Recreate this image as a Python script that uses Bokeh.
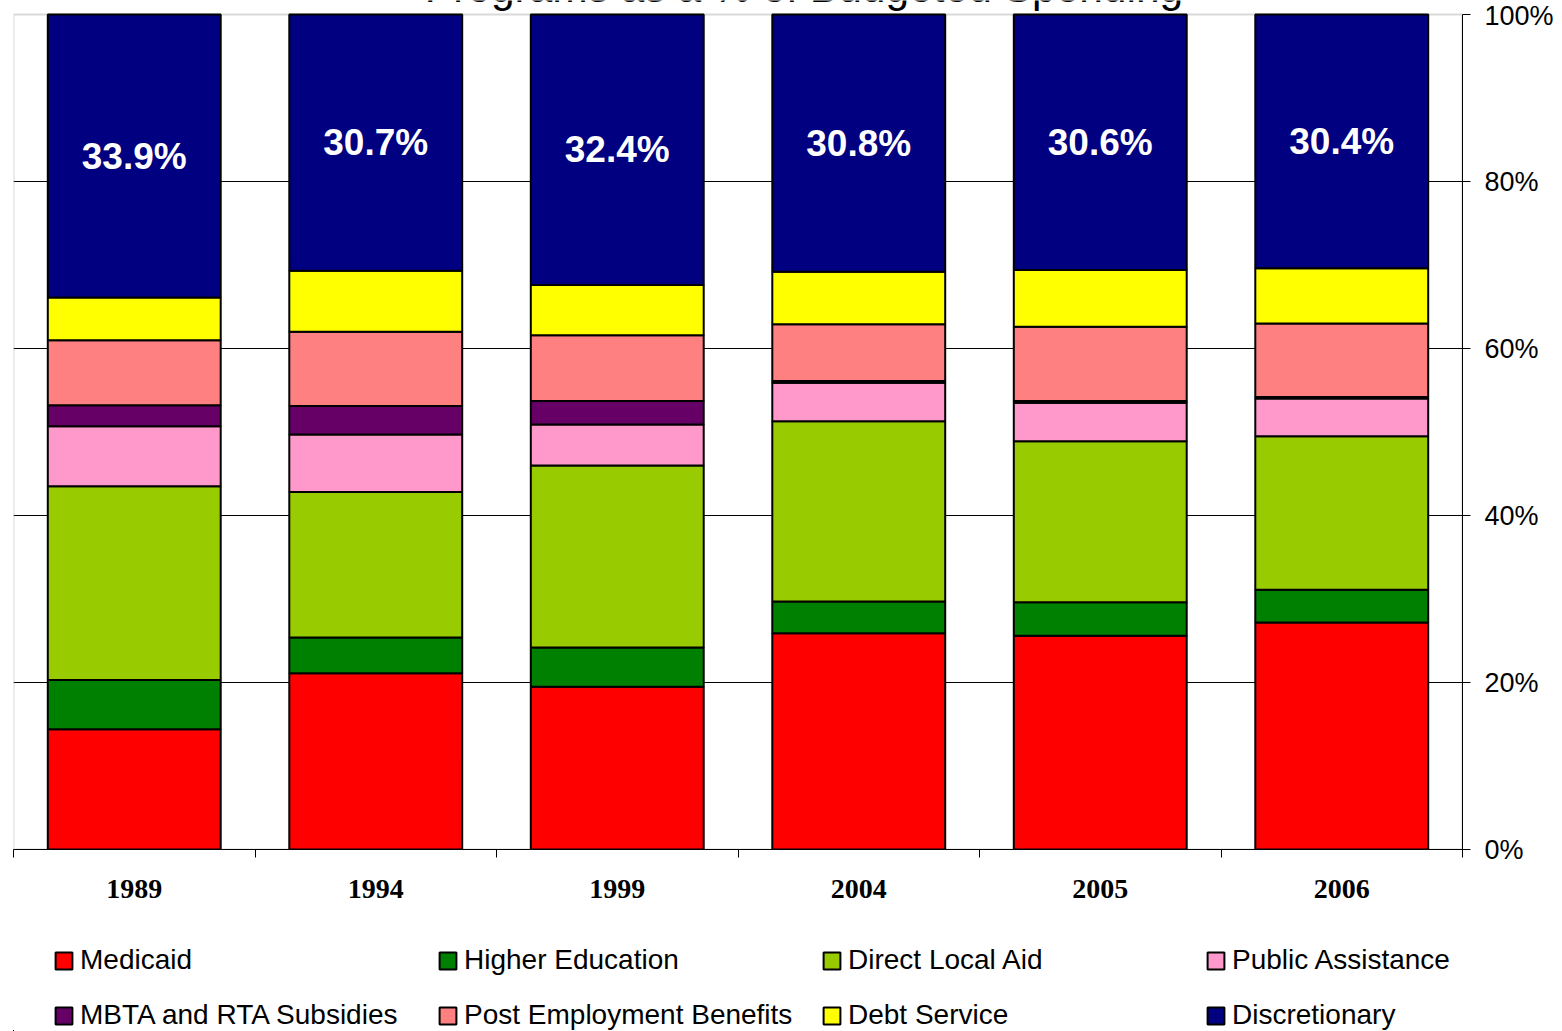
from bokeh.plotting import figure
from bokeh.layouts import column
from bokeh.models import (ColumnDataSource, Range1d, FixedTicker, NumeralTickFormatter,
                          Legend, LegendItem, Label, LabelSet, BoxAnnotation)
from bokeh.core.properties import value
from bokeh.embed import file_html
from bokeh.resources import INLINE

# Share of budgeted spending by program (percent)
years = ["1989", "1994", "1999", "2004", "2005", "2006"]
medicaid = [14.4, 21.1, 19.5, 25.9, 25.6, 27.2]
higher_education = [5.9, 4.3, 4.7, 3.8, 4.0, 3.9]
direct_local_aid = [23.2, 17.4, 21.8, 21.6, 19.3, 18.4]
public_assistance = [7.2, 6.9, 4.9, 4.6, 4.6, 4.5]
mbta_rta = [2.5, 3.4, 2.8, 0.2, 0.2, 0.2]
post_employment = [7.8, 8.9, 7.9, 6.8, 8.9, 8.8]
debt_service = [5.1, 7.3, 6.0, 6.3, 6.8, 6.6]
discretionary = [33.9, 30.7, 32.4, 30.8, 30.6, 30.4]

series_names = ["Medicaid", "Higher Education", "Direct Local Aid", "Public Assistance",
                "MBTA and RTA Subsidies", "Post Employment Benefits", "Debt Service",
                "Discretionary"]
series_colors = ["#FF0000", "#008000", "#99CC00", "#FF99CC",
                 "#660066", "#FF8080", "#FFFF00", "#000080"]
series_values = [medicaid, higher_education, direct_local_aid, public_assistance,
                 mbta_rta, post_employment, debt_service, discretionary]

keys = [f"s{i}" for i in range(len(series_values))]
data = {"x": [i + 0.5 for i in range(len(years))]}
for k, vals in zip(keys, series_values):
    data[k] = [v / 100.0 for v in vals]

# label position: middle of the top (discretionary) segment
below_disc = [sum(col) for col in zip(*series_values[:-1])]
data["label_y"] = [(b + d / 2.0) / 100.0 for b, d in zip(below_disc, discretionary)]
data["label_text"] = [f"{d:.1f}%" for d in discretionary]
src = ColumnDataSource(data)

bar_style = dict(x="x", width=0.716, source=src, fill_color=series_colors,
                 line_color="black", line_width=2)

# frame runs to the top of the canvas; a small headroom above 100% holds the title
PLOT_PX = 835
TOP_PX = 14
p = figure(width=1562, height=905, title=None,
           x_range=Range1d(0, len(years)), y_range=Range1d(0, 1 + TOP_PX / PLOT_PX),
           y_axis_location="right", output_backend="svg", toolbar_location=None,
           min_border_left=13, min_border_right=100, min_border_top=0,
           min_border_bottom=56)
p.background_fill_color = "white"
p.border_fill_color = "white"
p.outline_line_color = None

# plot-area border (0..100%)
p.add_layout(BoxAnnotation(left=0, right=len(years), bottom=0, top=1,
                           fill_alpha=0, line_color="#808080", line_width=2,
                           level="underlay"))

p.vbar_stack(keys, **bar_style)

# x axis: year labels at bar centres, tick marks between categories
p.xaxis.ticker = FixedTicker(ticks=data["x"], minor_ticks=list(range(len(years) + 1)))
p.xaxis.major_label_overrides = {x: y for x, y in zip(data["x"], years)}
p.xaxis.major_tick_line_color = None
p.xaxis.major_tick_out = 0
p.xaxis.major_tick_in = 0
p.xaxis.minor_tick_line_color = "black"
p.xaxis.minor_tick_out = 8
p.xaxis.minor_tick_in = 0
p.xaxis.axis_line_color = "black"
p.xaxis.major_label_text_font = "Liberation Serif"
p.xaxis.major_label_text_font_style = "bold"
p.xaxis.major_label_text_font_size = "28px"
p.xaxis.major_label_text_color = "black"
p.xaxis.major_label_standoff = 22

# y axis on the right, percentages
p.yaxis.ticker = FixedTicker(ticks=[0, 0.2, 0.4, 0.6, 0.8, 1.0])
p.yaxis.bounds = (0, 1)
p.yaxis.formatter = NumeralTickFormatter(format="0%")
p.yaxis.major_tick_out = 8
p.yaxis.major_tick_in = 0
p.yaxis.minor_tick_line_color = None
p.yaxis.axis_line_color = "black"
p.yaxis.major_tick_line_color = "black"
p.yaxis.major_label_text_font = "Liberation Sans"
p.yaxis.major_label_text_font_size = "27px"
p.yaxis.major_label_text_color = "black"
p.yaxis.major_label_standoff = 14

p.xgrid.grid_line_color = None
p.ygrid.ticker = FixedTicker(ticks=[0.2, 0.4, 0.6, 0.8])
p.ygrid.grid_line_color = "black"
p.ygrid.grid_line_width = 1

labels = LabelSet(x="x", y="label_y", text="label_text", source=src,
                  text_align="center", text_baseline="middle",
                  text_color="white", text_font=value("Liberation Sans"),
                  text_font_style="bold", text_font_size="37px")
p.add_layout(labels)

title = Label(x=3, y=1.0, x_offset=66, y_offset=27,
              text="Programs as a % of Budgeted Spending",
              text_align="center", text_baseline="alphabetic",
              text_font="Liberation Sans", text_font_size="42.5px", text_color="black")
p.add_layout(title)

# legend strip below the chart; it shares the bar source, its view ranges lie
# far away from the bars so only the legend itself shows
leg = figure(width=1562, height=126, x_range=Range1d(100, 106),
             y_range=Range1d(100, 101),
             x_axis_location=None, y_axis_location=None, title=None,
             output_backend="svg", toolbar_location=None,
             min_border_left=0, min_border_right=0, min_border_top=0, min_border_bottom=0)
leg.grid.grid_line_color = None
leg.outline_line_color = None
leg.background_fill_color = "white"
leg.border_fill_color = "white"

swatches = leg.vbar_stack(keys, **bar_style)
items = [LegendItem(label=name, renderers=[r]) for name, r in zip(series_names, swatches)]
legend = Legend(items=items, orientation="horizontal", ncols=4,
                location=(40, 0), glyph_width=21, glyph_height=21,
                label_standoff=6, spacing=23, label_width=334, label_height=32,
                label_text_font="Liberation Sans", label_text_font_size="28px",
                label_text_color="black", padding=0, margin=0,
                border_line_color=None, background_fill_alpha=0)
leg.add_layout(legend)

layout = column(p, leg, spacing=0)
open("out.html", "w").write(file_html(layout, INLINE))
